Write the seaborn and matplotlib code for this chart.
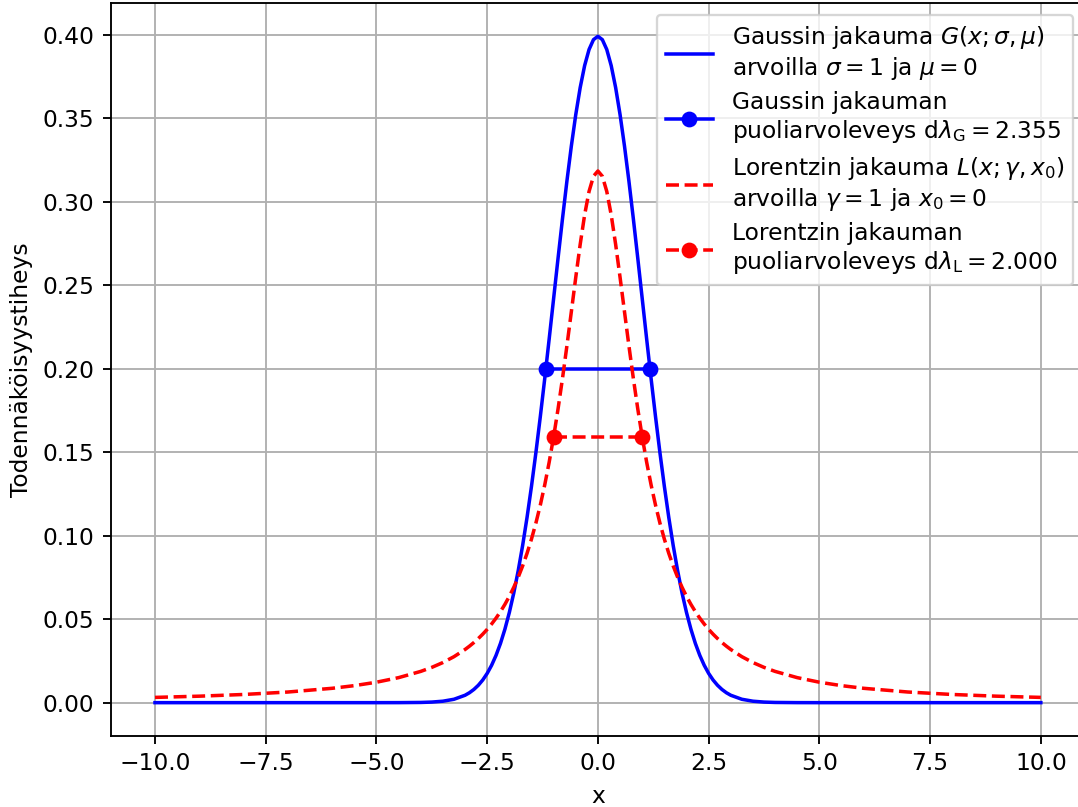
import matplotlib
matplotlib.use("Agg")
import matplotlib.pyplot as plt
import seaborn as sns

# x grid
x_vals = [-10, -9, -8, -7, -6, -5.5, -5, -4.5, -4, -3.75, -3.5, -3.25,
          -3.0, -2.9, -2.8, -2.7, -2.6, -2.5, -2.4, -2.3, -2.2, -2.1,
          -2.0, -1.9, -1.8, -1.7, -1.6, -1.5, -1.4, -1.3, -1.2, -1.1,
          -1.0, -0.9, -0.8, -0.7, -0.6, -0.5, -0.4, -0.3, -0.2, -0.1,
          0.0,
          0.1, 0.2, 0.3, 0.4, 0.5, 0.6, 0.7, 0.8, 0.9, 1.0,
          1.1, 1.2, 1.3, 1.4, 1.5, 1.6, 1.7, 1.8, 1.9, 2.0,
          2.1, 2.2, 2.3, 2.4, 2.5, 2.6, 2.7, 2.8, 2.9, 3.0,
          3.25, 3.5, 3.75, 4, 4.5, 5, 5.5, 6, 7, 8, 9, 10]

gauss_vals = [0, 0, 0, 0, 0, 0, 0, 0.00002, 0.00013, 0.00035, 0.00087, 0.00203,
              0.00443, 0.00595, 0.00792, 0.01042, 0.01358, 0.01753, 0.02239, 0.02833, 0.03547, 0.04398,
              0.05399, 0.06562, 0.07895, 0.09405, 0.11092, 0.12952, 0.14973, 0.17137, 0.19419, 0.21785,
              0.24197, 0.26609, 0.28969, 0.31225, 0.33322, 0.35207, 0.36827, 0.38139, 0.39104, 0.39695,
              0.39894,
              0.39695, 0.39104, 0.38139, 0.36827, 0.35207, 0.33322, 0.31225, 0.28969, 0.26609, 0.24197,
              0.21785, 0.19419, 0.17137, 0.14973, 0.12952, 0.11092, 0.09405, 0.07895, 0.06562, 0.05399,
              0.04398, 0.03547, 0.02833, 0.02239, 0.01753, 0.01358, 0.01042, 0.00792, 0.00595, 0.00443,
              0.00203, 0.00087, 0.00035, 0.00013, 0.00002, 0, 0, 0, 0, 0, 0, 0]

lorentz_vals = [0.00315, 0.00388, 0.00490, 0.00637, 0.00860, 0.01019, 0.01224, 0.01498, 0.01872, 0.02113, 0.02402, 0.02753,
                0.03183, 0.03383, 0.03601, 0.03840, 0.04102, 0.04390, 0.04709, 0.05061, 0.05451, 0.05884,
                0.06366, 0.06905, 0.07507, 0.08183, 0.08941, 0.09794, 0.10754, 0.11833, 0.13046, 0.14403,
                0.15915, 0.17586, 0.19409, 0.21363, 0.23405, 0.25465, 0.27441, 0.29203, 0.30607, 0.31516,
                0.31831,
                0.31516, 0.30607, 0.29203, 0.27441, 0.25465, 0.23405, 0.21363, 0.19409, 0.17586, 0.15915,
                0.14403, 0.13046, 0.11833, 0.10754, 0.09794, 0.08941, 0.08183, 0.07507, 0.06905, 0.06366,
                0.05884, 0.05451, 0.05061, 0.04709, 0.04390, 0.04102, 0.03840, 0.03601, 0.03383, 0.03183,
                0.02753, 0.02402, 0.02113, 0.01872, 0.01498, 0.01224, 0.01019, 0.00860, 0.00637, 0.00490, 0.00388, 0.00315]

# half-maximum widths
gauss_fwhm_x = [-1.1775, 1.1775]
gauss_fwhm_y = [0.19947, 0.19947]
lorentz_fwhm_x = [-1.0, 1.0]
lorentz_fwhm_y = [0.15915, 0.15915]

x_ticks = [-10.0, -7.5, -5.0, -2.5, 0.0, 2.5, 5.0, 7.5, 10.0]
y_ticks = [0.0, 0.05, 0.10, 0.15, 0.20, 0.25, 0.30, 0.35, 0.40]

labels = [
    'Gaussin jakauma $G(x;\\sigma,\\mu)$\narvoilla $\\sigma=1$ ja $\\mu=0$',
    'Gaussin jakauman\npuoliarvoleveys $\\mathrm{d}\\lambda_{\\mathrm{G}}=2.355$',
    'Lorentzin jakauma $L(x;\\gamma,x_0)$\narvoilla $\\gamma=1$ ja $x_0=0$',
    'Lorentzin jakauman\npuoliarvoleveys $\\mathrm{d}\\lambda_{\\mathrm{L}}=2.000$',
]

DPI = 168.4
fig, ax = plt.subplots(figsize=(1078 / DPI, 807 / DPI), dpi=DPI)
fig.subplots_adjust(left=0.1027, right=1.0066, top=0.9963, bottom=0.0880)

sns.lineplot(x=x_vals, y=gauss_vals, ax=ax, color='blue', linestyle='-',
             label=labels[0], errorbar=None, sort=False)
sns.lineplot(x=gauss_fwhm_x, y=gauss_fwhm_y, ax=ax, color='blue', linestyle='-',
             marker='o', markeredgecolor='blue', label=labels[1], errorbar=None, sort=False)
sns.lineplot(x=x_vals, y=lorentz_vals, ax=ax, color='red', linestyle='--',
             label=labels[2], errorbar=None, sort=False)
sns.lineplot(x=lorentz_fwhm_x, y=lorentz_fwhm_y, ax=ax, color='red', linestyle='--',
             marker='o', markeredgecolor='red', label=labels[3], errorbar=None, sort=False)

ax.set_xlim(-11, 11)
ax.set_ylim(-0.01995, 0.41889)
ax.set_xticks(x_ticks)
ax.set_yticks(y_ticks)
ax.set_xlabel('x')
ax.set_ylabel('Todennäköisyystiheys')
ax.grid(True, color='#b0b0b0', linewidth=0.8)
ax.legend(loc='upper right', labelspacing=0.4)

fig.savefig('out.png', dpi=DPI)
